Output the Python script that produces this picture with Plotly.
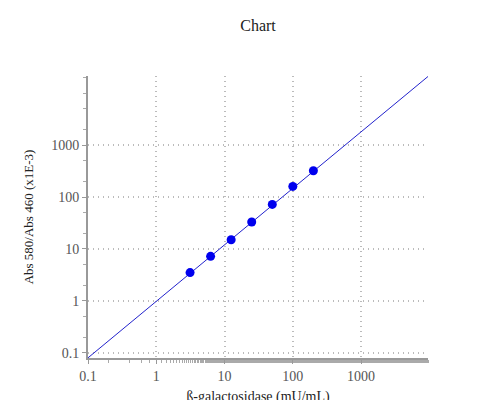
import plotly.graph_objects as go

conc = [3.125, 6.25, 12.5, 25, 50, 100, 200]
ratio = [3.5, 7.2, 15, 33, 72, 160, 320]
fit_x = [0.1, 10000]
fit_y = [0.08, 22000]

fig = go.Figure()
fig.add_trace(go.Scatter(x=fit_x, y=fit_y, mode="lines",
                         line=dict(color="#2222cc", width=1), hoverinfo="skip"))
fig.add_trace(go.Scatter(x=conc, y=ratio, mode="markers",
                         marker=dict(color="#0000ee", size=9)))

axis_common = dict(
    type="log", showline=True, linecolor="#999", linewidth=2, mirror=False,
    showgrid=True, gridcolor="#bbb", griddash="1px,4px", gridwidth=1.5,
    ticks="outside", tickcolor="#999", ticklen=4,
    minor=dict(ticks="outside", ticklen=3, tickcolor="#aaa", showgrid=False),
    zeroline=False, tickfont=dict(size=14, color="#555"),
    automargin=False,
)
fig.update_xaxes(**axis_common, range=[-1, 3.98],
                 tickvals=[0.1, 1, 10, 100, 1000], ticktext=["0.1", "1", "10", "100", "1000"],
                 title=dict(text="ß-galactosidase (mU/mL)", font=dict(size=14, color="#222"), standoff=8))
fig.update_yaxes(**axis_common, range=[-1.1, 4.33],
                 tickvals=[0.1, 1, 10, 100, 1000], ticktext=["0.1", "1", "10", "100", "1000"],
                 title=dict(text="Abs 580/Abs 460 (x1E-3)", font=dict(size=13, color="#222")))

fig.update_layout(
    width=500, height=400,
    title=dict(text="Chart", x=0.5, y=0.97, font=dict(size=16, color="#222")),
    font=dict(family="Liberation Serif, serif"),
    plot_bgcolor="white", paper_bgcolor="white",
    showlegend=False,
    margin=dict(l=80, r=80, t=68, b=50),
)
fig.write_html("out.html")
